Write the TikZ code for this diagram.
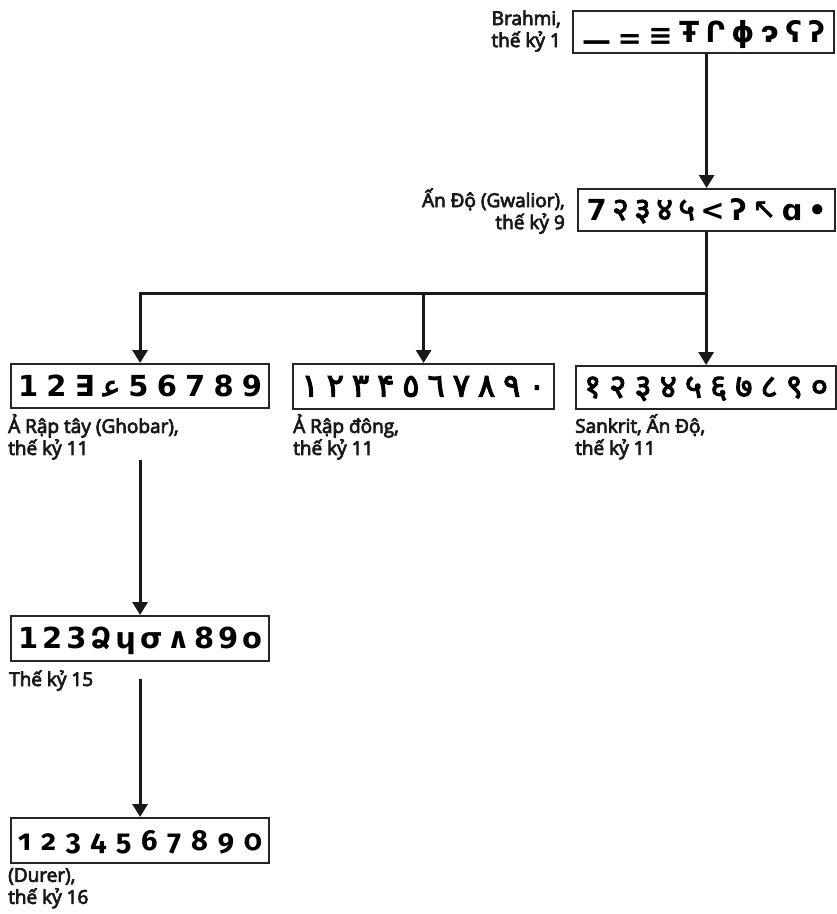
\documentclass[tikz,border=0pt]{standalone}
\usepackage{fontspec}
\setmainfont{Open Sans}
\newfontfamily\labfont[FakeBold=4]{Open Sans}
\newfontfamily\gl{DejaVu Sans}
\newfontfamily\deva[Script=Devanagari,FakeBold=3]{Noto Sans}
\newfontfamily\arab[Script=Arabic,FakeBold=3.5]{DejaVu Sans}
\newfontfamily\durerfont[Numbers=OldStyle]{Fira Sans}
\usetikzlibrary{arrows.meta,calc}
\newcommand\spreadrow[2]{\makebox[#1][s]{#2}}
\tikzset{
  numbox/.style={draw=black!85, line width=2.2pt, inner sep=0pt, anchor=north west,
    text height=23pt, text depth=3pt, font=\gl\bfseries\fontsize{29}{29}\selectfont},
  lab/.style={font=\labfont\fontsize{19}{22}\selectfont, inner sep=0pt, text=black!90,
    execute at begin node=\vphantom{Ấ}},
  arr/.style={line width=3pt, draw=black!90, -{Triangle[width=15pt,length=13pt]}},
  plain/.style={line width=3pt, draw=black!90}
}
\begin{document}
\begin{tikzpicture}[x=1pt,y=-1pt]
\useasboundingbox (0,0) rectangle (837,914);

% boxes
\node[numbox, minimum width=261pt, minimum height=42pt] (brahmi) at (572,10)
  {\spreadrow{243pt}{\raisebox{-8pt}{—}\hfil\raisebox{-6pt}{=}\hfil\raisebox{-3pt}{≡}\hfil Ŧ\hfil Ր\hfil ɸ\hfil ɂ\hfil ʕ\hfil ʔ}};
\node[numbox, minimum width=257pt, minimum height=42pt] (gwalior) at (577,188)
  {\spreadrow{240pt}{7\hfil{\deva\mdseries\fontsize{32}{32}\selectfont २}\hfil{\deva\mdseries\fontsize{32}{32}\selectfont ३}\hfil{\deva\mdseries\fontsize{32}{32}\selectfont ४}\hfil{\deva\mdseries\fontsize{32}{32}\selectfont ५}\hfil <\hfil ʔ\hfil ↖\hfil ɑ\hfil •}};
\node[numbox, minimum width=258pt, minimum height=44pt] (ghobar) at (10,363)
  {\spreadrow{244pt}{1\hfil 2\hfil ∃\hfil{\arab\mdseries ﻋ}\hfil 5\hfil 6\hfil 7\hfil 8\hfil 9}};
\node[numbox, minimum width=261pt, minimum height=45pt] (eastar) at (292,363)
  {\spreadrow{244pt}{\arab\mdseries\fontsize{32}{32}\selectfont ١\hfil ٢\hfil ٣\hfil ۴\hfil ٥\hfil ٦\hfil ٧\hfil ٨\hfil ٩\hfil ٠}};
\node[numbox, minimum width=260pt, minimum height=43pt] (sanskrit) at (575,365)
  {\spreadrow{244pt}{\deva\mdseries\fontsize{33}{33}\selectfont १\hfil २\hfil ३\hfil ४\hfil ५\hfil ६\hfil ७\hfil ८\hfil ९\hfil ०}};
\node[numbox, minimum width=258pt, minimum height=45pt] (c15) at (10,615)
  {\spreadrow{244pt}{1\hfil 2\hfil 3\hfil Ձ\hfil ɥ\hfil σ\hfil ∧\hfil 8\hfil 9\hfil o}};
\node[numbox, minimum width=258pt, minimum height=45pt] (durer) at (10,817)
  {\spreadrow{244pt}{\durerfont\bfseries 1\hfil 2\hfil 3\hfil 4\hfil 5\hfil 6\hfil 7\hfil 8\hfil 9\hfil 0}};

% labels
\node[lab, anchor=east, align=right] (brahmilab) at ($(brahmi.west)+(-11,-1)$) {Brahmi,\\thế kỷ 1};
\node[lab, anchor=east, align=right] (gwaliorlab) at ($(gwalior.west)+(-12,1)$) {Ấn Độ (Gwalior),\\thế kỷ 9};
\node[lab, anchor=north west, align=left] (ghobarlab) at (8,414) {Ả Rập tây (Ghobar),\\thế kỷ 11};
\node[lab, anchor=north west, align=left] (eastarlab) at (293,414) {Ả Rập đông,\\thế kỷ 11};
\node[lab, anchor=north west, align=left] (sanskritlab) at (575,414) {Sankrit, Ấn Độ,\\thế kỷ 11};
\node[lab, anchor=base west] (lab15) at (9,686) {Thế kỷ 15};
\node[lab, anchor=north west, align=left] (durerlab) at (8,868) {(Durer),\\thế kỷ 16};

% connectors
\coordinate (bus) at (705,293);
\draw[arr] (brahmi.south -| gwalior.north) -- (gwalior.north);
\draw[arr] (gwalior.south) |- (ghobar.north |- bus) -- (ghobar.north);
\draw[arr] (eastar.north |- bus) -- (eastar.north);
\draw[arr] (sanskrit.north |- bus) -- (sanskrit.north);
\draw[arr] (ghobar.south |- ghobarlab.south) -- (c15.north);
\draw[arr] ($(c15.south)+(0,17)$) -- (durer.north);
\end{tikzpicture}
\end{document}
